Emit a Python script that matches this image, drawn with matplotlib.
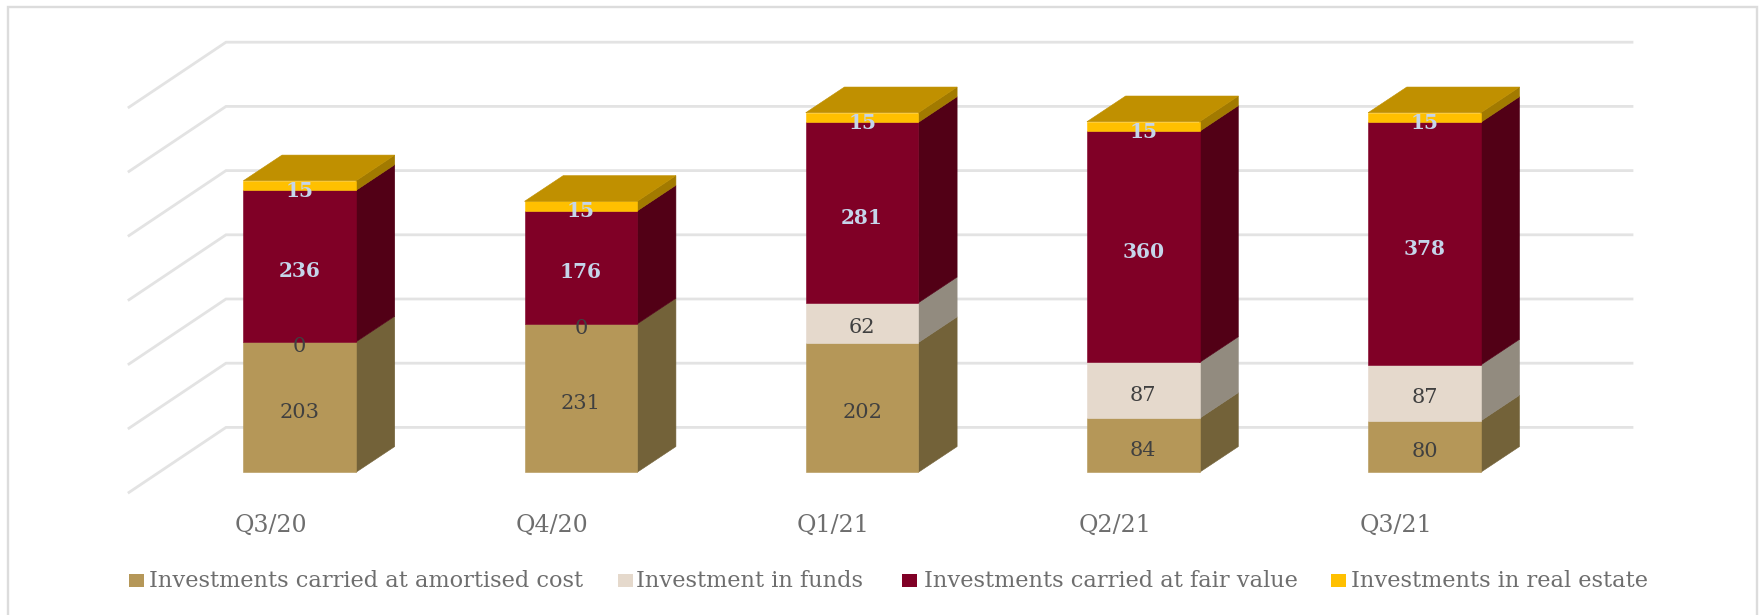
"""Stacked investment bars with a hand-built 3D look, in matplotlib."""

import matplotlib
matplotlib.use("Agg")
import matplotlib.pyplot as plt
from matplotlib.patches import Polygon, Rectangle

quarters = ["Q3/20", "Q4/20", "Q1/21", "Q2/21", "Q3/21"]
amortised = [203, 231, 202, 84, 80]
funds = [0, 0, 62, 87, 87]
fair_value = [236, 176, 281, 360, 378]
real_estate = [15, 15, 15, 15, 15]
y_ticks = [0, 100, 200, 300, 400, 500, 600]

series_names = [
    "Investments carried at amortised cost",
    "Investment in funds",
    "Investments carried at fair value",
    "Investments in real estate",
]

W, H = 1759, 615
FONT = "DejaVu Serif"
TEXT = "#6e6e6e"
GRID = "#e3e3e3"

FRONT = ["#b59758", "#e5d9cc", "#800026", "#ffc000"]
SIDE = ["#736239", "#928b7f", "#520016", "#a27a00"]
TOP = "#c09000"

# axes box = the back wall of the chart, in figure pixels
WALL_L, WALL_R = 226, 1632
WALL_TOP, WALL_BOTTOM = 42.2, 427.4

PX_X = (WALL_R - WALL_L) / len(quarters)  # pixels per category
PX_Y = (WALL_BOTTOM - WALL_TOP) / y_ticks[-1]  # pixels per value unit

# floor depth, in data units
FLOOR_DX = 97 / PX_X
FLOOR_DY = 65 / PX_Y
BAR_W = 112.7 / PX_X
BAR_DX = 38.7 / PX_X
BAR_DY = 25.7 / PX_Y
# offset of bar front from the front floor edge
BAR_OFF_X = 0.31 * FLOOR_DX
BAR_OFF_Y = 0.31 * FLOOR_DY


def draw_bar(ax, i, bottom, value, k, z):
    # front face plus side face of one stacked segment
    x0 = i - BAR_W / 2 - FLOOR_DX + BAR_OFF_X
    x1 = x0 + BAR_W
    y0 = bottom - FLOOR_DY + BAR_OFF_Y
    y1 = y0 + value
    ax.add_patch(Polygon(
        [(x1, y0), (x1 + BAR_DX, y0 + BAR_DY), (x1 + BAR_DX, y1 + BAR_DY), (x1, y1)],
        closed=True, facecolor=SIDE[k], edgecolor=SIDE[k], linewidth=0.4, zorder=z, clip_on=False,
    ))
    ax.add_patch(Rectangle(
        (x0, y0), BAR_W, value,
        facecolor=FRONT[k], edgecolor=FRONT[k], linewidth=0.4, zorder=z + 1, clip_on=False,
    ))
    return x0, x1, y0, y1


fig = plt.figure(figsize=(W / 100, H / 100), dpi=100)
ax = fig.add_axes([WALL_L / W, 1 - WALL_BOTTOM / H, (WALL_R - WALL_L) / W, (WALL_BOTTOM - WALL_TOP) / H])
ax.set_xlim(-0.5, len(quarters) - 0.5)
ax.set_ylim(y_ticks[0], y_ticks[-1])
ax.axis("off")

# outer frame
fig.add_artist(Rectangle(
    (7.7 / W, -0.01), (W - 10.2) / W, 1 - 6.8 / H + 0.01,
    transform=fig.transFigure, facecolor="none", edgecolor="#dcdcdc", linewidth=1.7,
))

# gridlines on the wall and down the left side
for t in y_ticks:
    ax.plot(
        [-0.5 - FLOOR_DX, -0.5, len(quarters) - 0.5], [t - FLOOR_DY, t, t],
        color=GRID, linewidth=2.0, zorder=1, clip_on=False, solid_joinstyle="miter",
    )

series = [amortised, funds, fair_value, real_estate]
for i in range(len(quarters)):
    bottom = 0
    for k, values in enumerate(series):
        v = values[i]
        if v == 0:
            continue
        x0, x1, y0, y1 = draw_bar(ax, i, bottom, v, k, 2 + 2 * k)
        bottom += v
    # top cap
    ax.add_patch(Polygon(
        [(x0, y1), (x1, y1), (x1 + BAR_DX, y1 + BAR_DY), (x0 + BAR_DX, y1 + BAR_DY)],
        closed=True, facecolor=TOP, edgecolor=TOP, linewidth=0.4, zorder=12, clip_on=False,
    ))

    # value labels
    xc = (x0 + x1) / 2
    bottom = 0
    for k, values in enumerate(series):
        v = values[i]
        yc = bottom + v / 2 - FLOOR_DY + BAR_OFF_Y - 3 / PX_Y
        if k >= 2:
            ax.text(xc, yc, str(v), ha="center", va="center_baseline", fontsize=14.5, fontweight="bold",
                    family=FONT, color="#c5d5ea", zorder=20)
        else:
            ax.text(xc, yc, str(v), ha="center", va="center_baseline", fontsize=15,
                    family=FONT, color="#404040", zorder=20)
        bottom += v

    # category label on the front floor edge
    ax.text(i - FLOOR_DX + 1.4 / PX_X, y_ticks[0] - 98 / PX_Y, quarters[i], ha="center", va="center",
            fontsize=17, family=FONT, color=TEXT, clip_on=False)

# legend, placed by hand to sit as in the reference
swatch_x = [129, 618, 902, 1331]
text_x = [149, 636, 924, 1351]
for k, name in enumerate(series_names):
    fig.add_artist(Rectangle(
        (swatch_x[k] / W, 1 - 587 / H), 15 / W, 13 / H,
        transform=fig.transFigure, facecolor=FRONT[k], edgecolor="none",
    ))
    fig.text(text_x[k] / W, 1 - 581 / H, name, ha="left", va="center",
             fontsize=16.2, family=FONT, color=TEXT)

fig.savefig("out.png", dpi=100)
